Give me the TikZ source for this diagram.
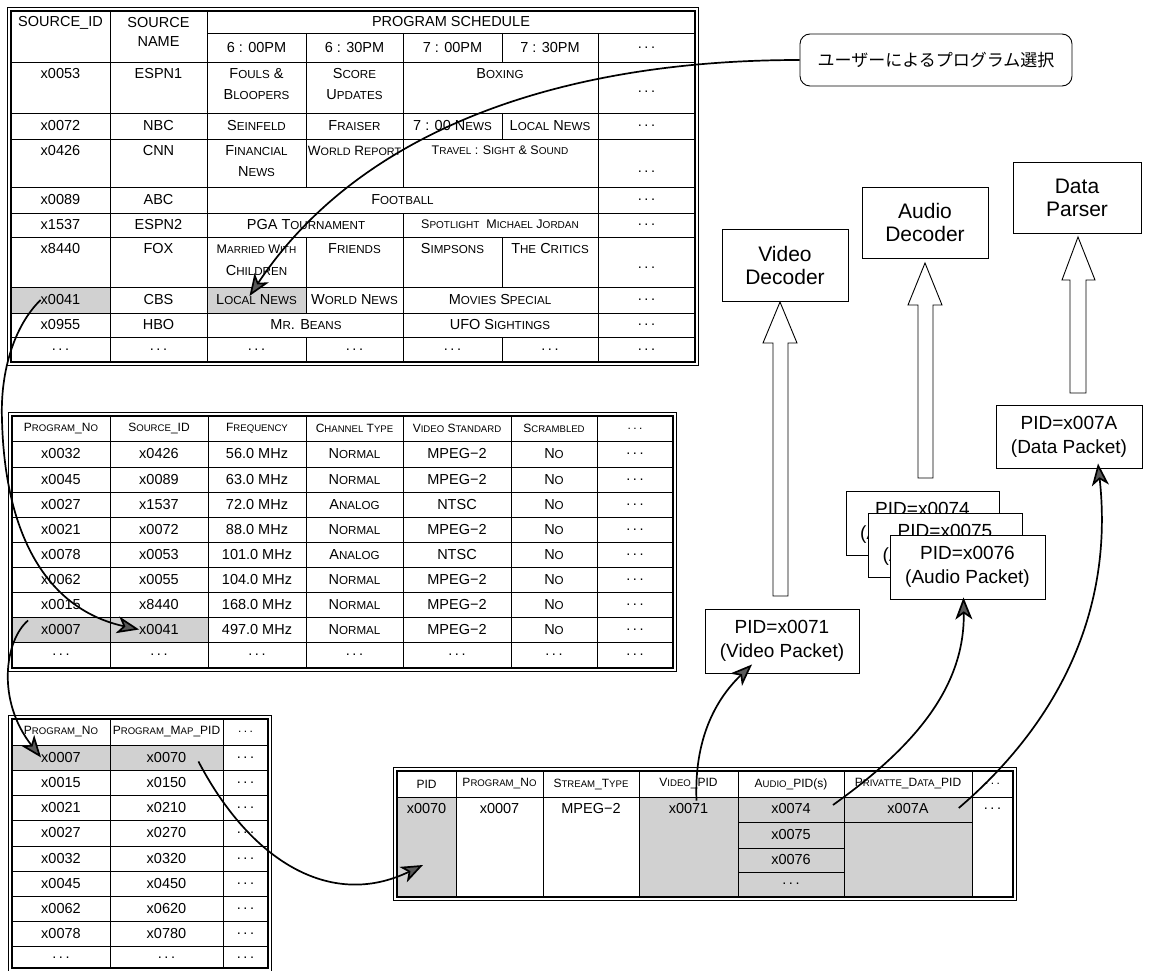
\documentclass[tikz,border=0pt]{standalone}
\usepackage{fontspec}
\usepackage{graphicx}
\setmainfont{Liberation Sans}
\newfontfamily\jpfont{Noto Sans CJK JP}
\usetikzlibrary{arrows.meta,calc}
\newcommand\SC[2]{#1\scalebox{0.8}{#2}}
\newcommand\dd{.\kern2.5pt.\kern2.5pt.}
\begin{document}
\begin{tikzpicture}[x=1pt,y=-1pt,
  tA/.style={font=\fontsize{14.5}{16}\selectfont, inner sep=0pt},
  tB/.style={font=\fontsize{14.5}{16}\selectfont, inner sep=0pt},
  tH/.style={font=\fontsize{12}{13}\selectfont, inner sep=0pt},
  tS/.style={font=\fontsize{12.5}{14}\selectfont, inner sep=0pt},
  grid/.style={line width=0.9pt},
  frameIn/.style={line width=1.3pt},
  frameOut/.style={line width=0.8pt},
  shade/.style={fill=black!18},
  conn/.style={line width=1.7pt, -{Stealth[length=22pt,width=17pt,inset=6pt,fill=black!65]}},
  box/.style={draw, line width=0.9pt, fill=white, align=center, inner sep=0pt},
  dec/.style={box, font=\fontsize{21}{23}\selectfont},
  pkt/.style={box, font=\fontsize{19}{24}\selectfont, minimum height=64},
  hol/.style={draw, line width=0.9pt, fill=white, line join=miter}]
\useasboundingbox (0,0) rectangle (1154,971);

%% ---------------- Top table ----------------
\fill[shade] (11,287) rectangle (110,313);
\fill[shade] (207,287) rectangle (306,313);
\foreach \yy in {62,113,139,187,213,237,287,313,337} \draw[grid] (11,\yy) -- (695,\yy);
\draw[grid] (207,33) -- (695,33);
\draw[grid] (110,11) -- (110,362) (207,11) -- (207,362) (598,33) -- (598,362);
\draw[grid] (306,33) -- (306,187) (306,237) -- (306,313) (306,337) -- (306,362);
\draw[grid] (403,33) -- (403,187) (403,213) -- (403,362);
\draw[grid] (502,33) -- (502,62) (502,113) -- (502,139) (502,237) -- (502,287) (502,337) -- (502,362);
\draw[frameIn] (11,11) rectangle (695,362);
\draw[frameOut] (7.5,7.5) rectangle (698.5,365.5);

\node[tA] (t1h1) at (60.5,23) {SOURCE\_ID};
\node[tA] (t1h2a) at (158.5,23) {SOURCE};
\node[tA] (t1h2b) at (158.5,42) {NAME};
\node[tA] (t1h3) at (451,22) {PROGRAM SCHEDULE};
\node[tA] (t1h4) at (256.5,48) {6 : 00PM};
\node[tA] (t1h5) at (354.5,48) {6 : 30PM};
\node[tA] (t1h6) at (452.5,48) {7 : 00PM};
\node[tA] (t1h7) at (550,48) {7 : 30PM};
\node[tA] (t1h8) at (646.5,48) {\dd};

\node[tA] (t1r1a) at (60.5,74) {x0053};
\node[tA] (t1r1b) at (158.5,74) {ESPN1};
\node[tA] (t1r1c) at (256.5,74) {\SC{F}{OULS} \&};
\node[tA] (t1r1c2) at (256.5,95) {\SC{B}{LOOPERS}};
\node[tA] (t1r1d) at (354.5,74) {\SC{S}{CORE}};
\node[tA] (t1r1d2) at (354.5,95) {\SC{U}{PDATES}};
\node[tA] (t1r1e) at (500,74) {\SC{B}{OXING}};
\node[tA] (t1r1g) at (646.5,92) {\dd};

\node[tA] (t1r2a) at (60.5,126) {x0072};
\node[tA] (t1r2b) at (158.5,126) {NBC};
\node[tA] (t1r2c) at (256.5,126) {\SC{S}{EINFELD}};
\node[tA] (t1r2d) at (354.5,126) {\SC{F}{RAISER}};
\node[tA] (t1r2e) at (452.5,126) {7 : 00 \SC{N}{EWS}};
\node[tA] (t1r2f) at (550,126) {\SC{L}{OCAL} \SC{N}{EWS}};
\node[tA] (t1r2g) at (646.5,126) {\dd};

\node[tA] (t1r3a) at (60.5,151) {x0426};
\node[tA] (t1r3b) at (158.5,151) {CNN};
\node[tA] (t1r3c) at (256.5,151) {\SC{F}{INANCIAL}};
\node[tA] (t1r3c2) at (256.5,172) {\SC{N}{EWS}};
\node[font=\fontsize{13.5}{15}\selectfont, inner sep=0pt] (t1r3d) at (354.5,151) {\SC{W}{ORLD} \SC{R}{EPORT}};
\node[tS] (t1r3e) at (500,150) {\SC{T}{RAVEL} : \SC{S}{IGHT} \& \SC{S}{OUND}};
\node[tA] (t1r3g) at (646.5,172) {\dd};

\node[tA] (t1r4a) at (60.5,200) {x0089};
\node[tA] (t1r4b) at (158.5,200) {ABC};
\node[tA] (t1r4c) at (402.5,200) {\SC{F}{OOTBALL}};
\node[tA] (t1r4g) at (646.5,200) {\dd};

\node[tA] (t1r5a) at (60.5,225) {x1537};
\node[tA] (t1r5b) at (158.5,225) {ESPN2};
\node[tA] (t1r5c) at (306,225) {PGA \SC{T}{OURNAMENT}};
\node[tS] (t1r5e) at (500,224) {\SC{S}{POTLIGHT}\ \ \SC{M}{ICHAEL} \SC{J}{ORDAN}};
\node[tA] (t1r5g) at (646.5,225) {\dd};

\node[tA] (t1r6a) at (60.5,249) {x8440};
\node[tA] (t1r6b) at (158.5,249) {FOX};
\node[tS] (t1r6c) at (256.5,249) {\SC{M}{ARRIED} \SC{W}{ITH}};
\node[tA] (t1r6c2) at (256.5,271) {\SC{C}{HILDREN}};
\node[tA] (t1r6d) at (354.5,249) {\SC{F}{RIENDS}};
\node[tA] (t1r6e) at (452.5,249) {\SC{S}{IMPSONS}};
\node[tA] (t1r6f) at (550,249) {\SC{T}{HE} \SC{C}{RITICS}};
\node[tA] (t1r6g) at (646.5,268) {\dd};

\node[tA] (t1x0041) at (60.5,300) {x0041};
\node[tA] (t1r7b) at (158.5,300) {CBS};
\node[tA] (t1local) at (256.5,300) {\SC{L}{OCAL} \SC{N}{EWS}};
\node[tA] (t1r7d) at (354.5,300) {\SC{W}{ORLD} \SC{N}{EWS}};
\node[tA] (t1r7e) at (500,300) {\SC{M}{OVIES} \SC{S}{PECIAL}};
\node[tA] (t1r7g) at (646.5,300) {\dd};

\node[tA] (t1r8a) at (60.5,325) {x0955};
\node[tA] (t1r8b) at (158.5,325) {HBO};
\node[tA] (t1r8c) at (306,325) {\SC{M}{R}. \SC{B}{EANS}};
\node[tA] (t1r8e) at (500,325) {UFO \SC{S}{IGHTINGS}};
\node[tA] (t1r8g) at (646.5,325) {\dd};

\foreach \xx [count=\i] in {60.5,158.5,256.5,354.5,452.5,550,646.5}
  \node[tA] (t1r9-\i) at (\xx,350) {\dd};

%% ---------------- Middle table ----------------
\fill[shade] (12,617) rectangle (208,642);
\foreach \yy in {441,467,492,517,542,567,592,617,642} \draw[grid] (12,\yy) -- (673,\yy);
\foreach \xx in {110,208,306,403,511,597} \draw[grid] (\xx,416) -- (\xx,668);
\draw[frameIn] (12,416) rectangle (673,668);
\draw[frameOut] (8.5,412.5) rectangle (676.5,671.5);

\node[tH] (mh1) at (61,428.5) {\SC{P}{ROGRAM}\_\SC{N}{O}};
\node[tH] (mh2) at (159,428.5) {\SC{S}{OURCE}\_ID};
\node[tH] (mh3) at (257,428.5) {\SC{F}{REQUENCY}};
\node[tH] (mh4) at (354.5,428.5) {\SC{C}{HANNEL} \SC{T}{YPE}};
\node[tH] (mh5) at (457,428.5) {\SC{V}{IDEO} \SC{S}{TANDARD}};
\node[tH] (mh6) at (554,428.5) {\SC{S}{CRAMBLED}};
\node[tH] (mh7) at (635,428.5) {\dd};

\foreach \r/\yy/\a/\b/\c/\d/\e in {
  1/454/x0032/x0426/56.0 MHz/\SC{N}{ORMAL}/MPEG−2,
  2/479.5/x0045/x0089/63.0 MHz/\SC{N}{ORMAL}/MPEG−2,
  3/504.5/x0027/x1537/72.0 MHz/\SC{A}{NALOG}/NTSC,
  4/529.5/x0021/x0072/88.0 MHz/\SC{N}{ORMAL}/MPEG−2,
  5/554.5/x0078/x0053/101.0 MHz/\SC{A}{NALOG}/NTSC,
  6/579.5/x0062/x0055/104.0 MHz/\SC{N}{ORMAL}/MPEG−2,
  7/604.5/x0015/x8440/168.0 MHz/\SC{N}{ORMAL}/MPEG−2,
  8/629.5/x0007/x0041/497.0 MHz/\SC{N}{ORMAL}/MPEG−2}{
  \node[tB] (m\r-1) at (61,\yy) {\a};
  \node[tB] (m\r-2) at (159,\yy) {\b};
  \node[tB] (m\r-3) at (257,\yy) {\c};
  \node[tB] (m\r-4) at (354.5,\yy) {\d};
  \node[tB] (m\r-5) at (457,\yy) {\e};
  \node[tB] (m\r-6) at (554,\yy) {\SC{N}{O}};
  \node[tB] (m\r-7) at (635,\yy) {\dd};
}
\foreach \xx [count=\i] in {61,159,257,354.5,457,554,635}
  \node[tB] (m9-\i) at (\xx,655) {\dd};

%% ---------------- Bottom-left table ----------------
\fill[shade] (12,745) rectangle (223,770);
\foreach \yy in {745,770,795,820,846,871,896,921,946} \draw[grid] (12,\yy) -- (268,\yy);
\foreach \xx in {110,223} \draw[grid] (\xx,719) -- (\xx,968);
\draw[frameIn] (12,719) rectangle (268,968);
\draw[frameOut] (8.5,715.5) rectangle (271.5,971.5);

\node[tH] (bh1) at (61,732) {\SC{P}{ROGRAM}\_\SC{N}{O}};
\node[tH] (bh2) at (166.5,732) {\SC{P}{ROGRAM}\_\SC{M}{AP}\_PID};
\node[tH] (bh3) at (245.5,732) {\dd};
\foreach \r/\yy/\a/\b in {1/757.5/x0007/x0070, 2/782.5/x0015/x0150, 3/807.5/x0021/x0210,
  4/833/x0027/x0270, 5/858.5/x0032/x0320, 6/883.5/x0045/x0450, 7/908.5/x0062/x0620,
  8/933.5/x0078/x0780}{
  \node[tB] (b\r-1) at (61,\yy) {\a};
  \node[tB] (b\r-2) at (166.5,\yy) {\b};
  \node[tB] (b\r-3) at (245.5,\yy) {\dd};
}
\foreach \xx [count=\i] in {61,166.5,245.5}
  \node[tB] (b9-\i) at (\xx,958) {\dd};

%% ---------------- Bottom-right table ----------------
\fill[shade] (397,797) rectangle (456,897);
\fill[shade] (639,797) rectangle (972,897);
\draw[grid] (397,797) -- (1013,797);
\foreach \xx in {456,543,639,738,844,972} \draw[grid] (\xx,771) -- (\xx,897);
\draw[grid] (738,822) -- (972,822) (738,848) -- (844,848) (738,872) -- (844,872);
\draw[frameIn] (397,771) rectangle (1013,897);
\draw[frameOut] (393.5,767.5) rectangle (1016.5,900.5);

\node[tH] (ph1) at (426.5,784) {PID};
\node[tH] (ph2) at (499.5,784) {\SC{P}{ROGRAM}\_\SC{N}{O}};
\node[tH] (ph3) at (591,784) {\SC{S}{TREAM}\_\SC{T}{YPE}};
\node[tH] (ph4) at (688.5,784) {\SC{V}{IDEO}\_PID};
\node[tH] (ph5) at (791,784) {\SC{A}{UDIO}\_PID(s)};
\node[tH] (ph6) at (908,784) {\SC{P}{RIVATTE}\_\SC{D}{ATA}\_PID};
\node[tH] (ph7) at (992.5,784) {\dd};
\node[tB] (t4pid) at (426.5,809) {x0070};
\node[tB] (t4prg) at (499.5,809) {x0007};
\node[tB] (t4str) at (591,809) {MPEG−2};
\node[tB] (t4vid) at (688.5,809) {x0071};
\node[tB] (t4aud) at (791,809) {x0074};
\node[tB] (t4dat) at (908,809) {x007A};
\node[tB] (t4dots) at (992.5,809) {\dd};
\node[tB] (t4aud2) at (791,835) {x0075};
\node[tB] (t4aud3) at (791,860) {x0076};
\node[tB] (t4aud4) at (791,884) {\dd};
\coordinate (pidcell) at (423,865);

%% ---------------- Right side ----------------
\node[dec, minimum width=126, minimum height=72] (vdec) at (785,265) {Video\\Decoder};
\node[dec, minimum width=126, minimum height=71] (adec) at (925,222.5) {Audio\\Decoder};
\node[dec, minimum width=128, minimum height=71] (dpar) at (1077,197.5) {Data\\Parser};

\node[pkt, minimum width=154] (vpkt) at (782,641) {PID=x0071\\(Video Packet)};
\node[pkt, minimum width=153] (apkt1) at (922.5,523) {PID=x0074\\(Audio Packet)};
\node[pkt, minimum width=154] (apkt2) at (945,545) {PID=x0075\\(Audio Packet)};
\node[pkt, minimum width=155] (apkt3) at (967.5,567) {PID=x0076\\(Audio Packet)};
\node[pkt, minimum width=146, minimum height=63] (dpkt) at (1069,436.5) {PID=x007A\\(Data Packet)};

% hollow block arrows
\draw[hol] (773,596) -- (773,343) -- (763,343) -- (780,302) -- (797,343) -- (788,343) -- (788,596) -- cycle;
\draw[hol] (918,478) -- (918,305) -- (908,305) -- (925,263) -- (942,305) -- (933,305) -- (933,478) -- cycle;
\draw[hol] (1070,393) -- (1070,280) -- (1062,280) -- (1078,237) -- (1095,280) -- (1086,280) -- (1086,393) -- cycle;

% callout
\node[draw, line width=0.9pt, rounded corners=10pt, minimum width=272, minimum height=52,
  inner sep=0pt, font=\jpfont\fontsize{17}{20}\selectfont] (callout) at (936,60) {ユーザーによるプログラム選択};

%% ---------------- Connectors ----------------
\draw[conn] (callout.west) .. controls (560,60) and (360,130) .. ($(t1local)+(-7,-4)$);
\draw[conn] (t1x0041.west) .. controls (15,325) and (0,370) .. (2,420)
   .. controls (5,540) and (50,610) .. (m8-2.west);
\draw[conn] ($(m8-1.west)+(-13,-9)$) .. controls (5,640) and (-4,700) .. (b1-1.west);
\draw[conn] ($(b1-2.east)+(12,4)$) .. controls (250,860) and (330,910) .. (pidcell);
\draw[conn] ($(t4vid.north)+(8,-3)$) .. controls (694,740) and (715,700) .. ($(vpkt.south)+(-30,-9)$);
\draw[conn] ($(t4aud.east)+(22,-4)$) .. controls (910,750) and (965,690) .. ($(apkt3.south)+(-4,-2)$);
\draw[conn] ($(t4dat.east)+(30,-1)$) .. controls (1050,730) and (1115,620) .. ($(dpkt.south)+(29,-5)$);
\end{tikzpicture}
\end{document}
